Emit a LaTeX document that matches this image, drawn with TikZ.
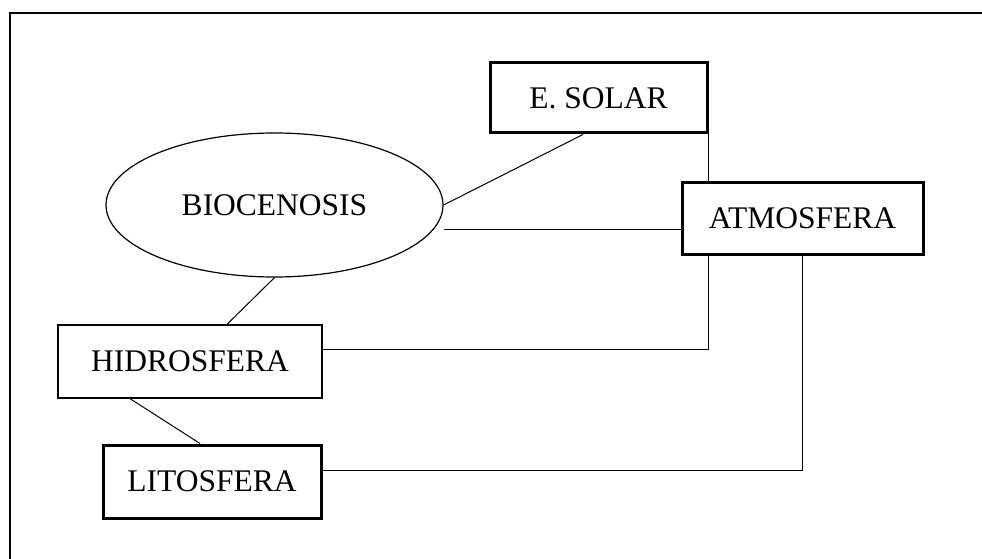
\documentclass[tikz,border=0pt]{standalone}
\usepackage{fontspec}
\setmainfont{Liberation Serif}
\usetikzlibrary{shapes.geometric}

\begin{document}
\begin{tikzpicture}[
    x=1pt, y=-1pt,
    box/.style={
        rectangle, draw=black, line width=1.3pt,
        inner sep=0pt, text centered,
        font=\fontsize{31.5}{36}\selectfont
    },
    thickbox/.style={
        box, line width=3pt
    },
    biobox/.style={
        ellipse, draw=black, line width=1.2pt,
        inner sep=0pt, minimum width=337pt, minimum height=144pt,
        font=\fontsize{31.5}{36}\selectfont
    },
    link/.style={
        line width=1pt, draw=black
    },
    frame/.style={
        line width=2pt, draw=black
    }
]
\useasboundingbox (0,0) rectangle (982,559);

% ===== Frame =====
\draw[frame] (10,559) -- (10,13) -- (982,13);

% ===== Nodes =====
\node[thickbox, minimum width=217pt, minimum height=70pt] (solar) at (598.5,98) {E. SOLAR};
\node[thickbox, minimum width=241pt, minimum height=72pt] (atmos) at (802.5,218) {ATMOSFERA};
\node[biobox] (bio) at (274.5,205) {BIOCENOSIS};
\node[box, minimum width=264pt, minimum height=73pt] (hidro) at (190,361.5) {HIDROSFERA};
\node[thickbox, minimum width=218pt, minimum height=73pt] (lito) at (212,481.5) {LITOSFERA};

% ===== Links =====
\draw[link] ([xshift=-15.5pt]solar.south) -- (bio.east);
\draw[link] ([yshift=-24pt]bio.east) -- ([yshift=-11pt]atmos.west);
\draw[link] (solar.south east) -- (solar.south east |- atmos.north);
\draw[link] (solar.south east |- atmos.south) |- ([yshift=12.5pt]hidro.east);
\draw[link] (atmos.south) |- ([yshift=11.5pt]lito.east);
\draw[link] (bio.south) -- ([xshift=37pt]hidro.north);
\draw[link] ([xshift=-60pt]hidro.south) -- ([xshift=-12pt]lito.north);

\end{tikzpicture}
\end{document}
